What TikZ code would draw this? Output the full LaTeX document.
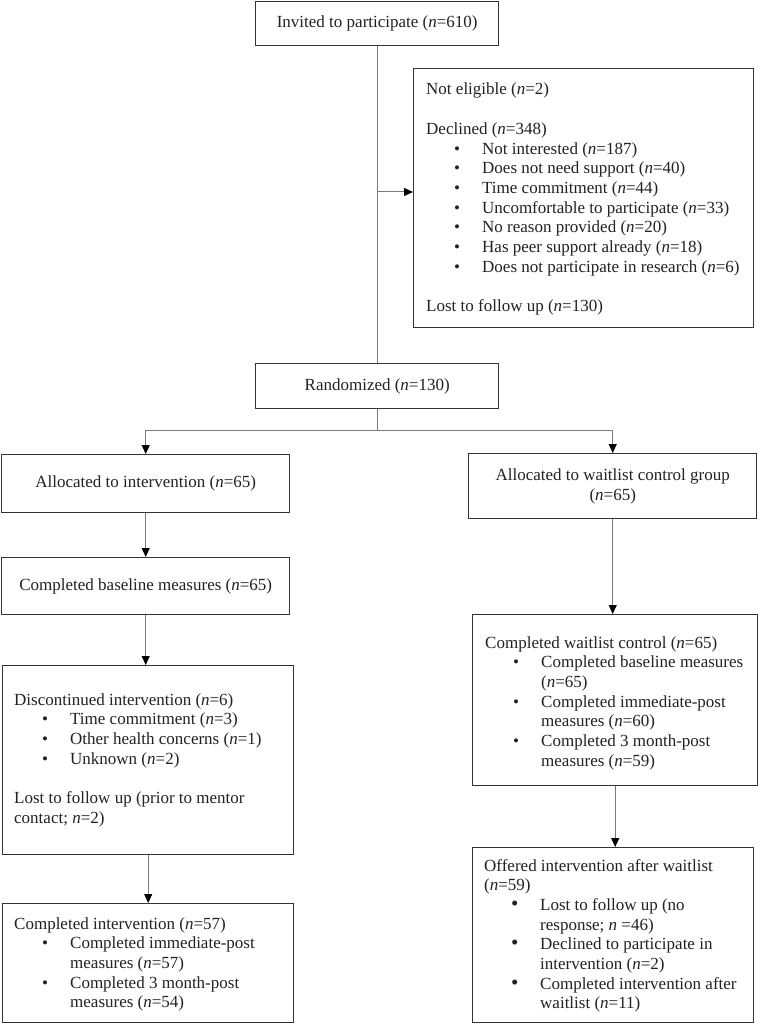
\documentclass[tikz,border=0pt]{standalone}
\usepackage{fontspec}
\setmainfont{Liberation Serif}
\usetikzlibrary{arrows.meta}
\definecolor{boxc}{HTML}{333333}
\definecolor{linec}{HTML}{7A7A7A}
\definecolor{textc}{HTML}{222222}
\newcommand{\bodyfont}{\fontsize{17}{19.7}\selectfont}
\newcommand{\bul}[1]{\hspace*{28pt}\makebox[28pt][l]{•}#1}
\newcommand{\bulb}[1]{\hspace*{27pt}\makebox[29pt][l]{\fontsize{21}{19.7}\selectfont •}#1}
\newcommand{\ind}[1]{\hspace*{56pt}#1}
\newcommand{\nn}{\textit{n}}
\newcommand{\blank}{\mbox{}}
\tikzset{
  box/.style={draw=boxc, line width=1.4pt, rectangle, inner sep=0pt, anchor=north west,
    text=textc, font=\bodyfont, align=center},
  conn/.style={draw=linec, line width=1pt},
  arr/.style={conn, -{Triangle[length=9pt,width=8pt,color=black]}},
  txt/.style={inner sep=0pt, anchor=base west, text=textc, font=\bodyfont}
}
\begin{document}
\begin{tikzpicture}[x=1pt,y=-1pt]
\useasboundingbox[fill=white] (0,0) rectangle (760,1024);

% boxes
\node[box, minimum width=243pt, minimum height=44pt] (inv) at (255,1) {Invited to participate (\nn=610)};
\node[box, minimum width=340pt, minimum height=259pt] (excl) at (413,68) {};
\node[box, minimum width=243pt, minimum height=45pt] (rand) at (255,363) {Randomized (\nn=130)};
\node[box, minimum width=288pt, minimum height=58pt] (alloc) at (1,454) {Allocated to intervention (\nn=65)};
\node[box, minimum width=288pt, minimum height=65pt] (wait) at (468,453) {Allocated to waitlist control group\\(\nn=65)};
\node[box, minimum width=288pt, minimum height=57pt] (base) at (1,557) {Completed baseline measures (\nn=65)};
\node[box, minimum width=291pt, minimum height=189pt] (disc) at (2,665) {};
\node[box, minimum width=291pt, minimum height=119pt] (compl) at (2,903) {};
\node[box, minimum width=285pt, minimum height=171pt] (cwait) at (472,614) {};
\node[box, minimum width=281pt, minimum height=175pt] (off) at (472,847) {};

% texts
\node[txt] (exclt) at (426,95) {\parbox[t]{325pt}{\raggedright
Not eligible (\nn=2)\\
\blank\\
Declined (\nn=348)\\
\bul{Not interested (\nn=187)}\\
\bul{Does not need support (\nn=40)}\\
\bul{Time commitment (\nn=44)}\\
\bul{Uncomfortable to participate (\nn=33)}\\
\bul{No reason provided (\nn=20)}\\
\bul{Has peer support already (\nn=18)}\\
\bul{Does not participate in research (\nn=6)}\\
\blank\\
Lost to follow up (\nn=130)}};

\node[txt] (disct) at (14,705) {\parbox[t]{275pt}{\raggedright
Discontinued intervention (\nn=6)\\
\bul{Time commitment (\nn=3)}\\
\bul{Other health concerns (\nn=1)}\\
\bul{Unknown (\nn=2)}\\
\blank\\
Lost to follow up (prior to mentor\\
contact; \nn=2)}};

\node[txt] (complt) at (14,929) {\parbox[t]{275pt}{\raggedright
Completed intervention (\nn=57)\\
\bul{Completed immediate-post}\\
\ind{measures (\nn=57)}\\
\bul{Completed 3 month-post}\\
\ind{measures (\nn=54)}}};

\node[txt] (cwaitt) at (485,648) {\parbox[t]{270pt}{\raggedright
Completed waitlist control (\nn=65)\\
\bul{Completed baseline measures}\\
\ind{(\nn=65)}\\
\bul{Completed immediate-post}\\
\ind{measures (\nn=60)}\\
\bul{Completed 3 month-post}\\
\ind{measures (\nn=59)}}};

\node[txt] (offt) at (484,871) {\parbox[t]{265pt}{\raggedright
Offered intervention after waitlist\\
(\nn=59)\\
\bulb{Lost to follow up (no}\\
\ind{response; \nn\ =46)}\\
\bulb{Declined to participate in}\\
\ind{intervention (\nn=2)}\\
\bulb{Completed intervention after}\\
\ind{waitlist (\nn=11)}}};

% connectors
\draw[conn] (inv.south) -- (rand.north);
\coordinate (j1) at (376.5,192);
\draw[arr] (j1) -- (j1 -| excl.west);
\coordinate (j2) at ([yshift=-21pt]rand.south);
\draw[conn] (rand.south) -- (j2);
\draw[arr] (j2) -| (alloc.north);
\draw[arr] (j2) -| (wait.north);
\draw[arr] (alloc.south) -- (base.north);
\draw[arr] (base.south) -- (base.south |- disc.north);
\draw[arr] (disc.south) -- (disc.south |- compl.north);
\draw[arr] (wait.south) -- (wait.south |- cwait.north);
\draw[arr] (cwait.south) -- (cwait.south |- off.north);
\end{tikzpicture}
\end{document}
